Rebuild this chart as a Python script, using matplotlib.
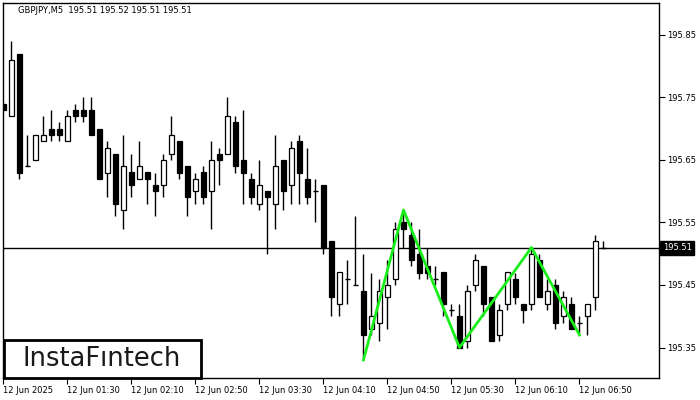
import matplotlib
matplotlib.use("Agg")
import matplotlib.pyplot as plt
import matplotlib.transforms as mtransforms
from matplotlib.patches import Rectangle

# GBPJPY M5 candles
opens = [
    195.74, 195.72, 195.82, 195.64, 195.65, 195.68, 195.70, 195.70, 195.68, 195.73,
    195.73, 195.73, 195.70, 195.63, 195.66, 195.57, 195.63, 195.62, 195.63, 195.61,
    195.61, 195.66, 195.68, 195.64, 195.60, 195.63, 195.60, 195.66, 195.66, 195.71,
    195.65, 195.62, 195.58, 195.60, 195.58, 195.65, 195.61, 195.68, 195.62, 195.60,
    195.61, 195.52, 195.42, 195.46, 195.45, 195.44, 195.38, 195.39, 195.43, 195.46,
    195.55, 195.53, 195.50, 195.48, 195.46, 195.47, 195.41, 195.40, 195.36, 195.45,
    195.48, 195.43, 195.37, 195.42, 195.46, 195.42, 195.42, 195.49, 195.42, 195.45,
    195.40, 195.42, 195.39, 195.40, 195.43, 195.51]
highs = [
    195.74, 195.84, 195.82, 195.69, 195.69, 195.72, 195.73, 195.71, 195.73, 195.74,
    195.75, 195.75, 195.70, 195.68, 195.66, 195.69, 195.66, 195.68, 195.63, 195.63,
    195.66, 195.72, 195.68, 195.64, 195.63, 195.64, 195.68, 195.67, 195.75, 195.72,
    195.73, 195.63, 195.65, 195.60, 195.69, 195.65, 195.68, 195.69, 195.67, 195.62,
    195.61, 195.52, 195.47, 195.49, 195.56, 195.50, 195.47, 195.46, 195.49, 195.55,
    195.57, 195.55, 195.54, 195.51, 195.48, 195.47, 195.42, 195.42, 195.45, 195.50,
    195.48, 195.43, 195.42, 195.47, 195.47, 195.42, 195.51, 195.50, 195.46, 195.46,
    195.44, 195.43, 195.40, 195.42, 195.53, 195.52]
lows = [
    195.73, 195.72, 195.62, 195.64, 195.65, 195.68, 195.68, 195.68, 195.68, 195.71,
    195.71, 195.69, 195.62, 195.59, 195.56, 195.54, 195.59, 195.62, 195.58, 195.56,
    195.59, 195.65, 195.62, 195.56, 195.58, 195.58, 195.54, 195.61, 195.66, 195.63,
    195.58, 195.58, 195.57, 195.50, 195.54, 195.57, 195.58, 195.58, 195.58, 195.55,
    195.50, 195.40, 195.40, 195.42, 195.45, 195.33, 195.37, 195.36, 195.38, 195.45,
    195.51, 195.48, 195.46, 195.46, 195.45, 195.40, 195.40, 195.35, 195.35, 195.44,
    195.40, 195.36, 195.36, 195.41, 195.42, 195.39, 195.41, 195.43, 195.41, 195.38,
    195.39, 195.38, 195.37, 195.37, 195.41, 195.51]
closes = [
    195.73, 195.81, 195.63, 195.64, 195.69, 195.69, 195.69, 195.69, 195.72, 195.72,
    195.72, 195.69, 195.62, 195.67, 195.58, 195.64, 195.61, 195.64, 195.62, 195.60,
    195.65, 195.69, 195.63, 195.59, 195.62, 195.59, 195.65, 195.65, 195.72, 195.64,
    195.63, 195.59, 195.61, 195.59, 195.64, 195.60, 195.67, 195.63, 195.59, 195.60,
    195.51, 195.43, 195.47, 195.46, 195.45, 195.37, 195.40, 195.44, 195.45, 195.54,
    195.54, 195.49, 195.47, 195.47, 195.46, 195.42, 195.41, 195.35, 195.44, 195.49,
    195.42, 195.36, 195.41, 195.47, 195.43, 195.41, 195.50, 195.43, 195.44, 195.39,
    195.43, 195.38, 195.39, 195.42, 195.52, 195.51]

last_price = 195.51
header = "GBPJPY,M5  195.51 195.52 195.51 195.51"

# triple bottom zigzag (bar index, price)
pattern_idx = [45, 50, 57, 66, 72]
pattern_price = [195.33, 195.57, 195.35, 195.51, 195.37]

price_ticks = [195.35, 195.45, 195.55, 195.65, 195.75, 195.85]
time_idx = [0, 8, 16, 24, 32, 40, 48, 56, 64, 72]
time_labels = ["12 Jun 2025", "12 Jun 01:30", "12 Jun 02:10", "12 Jun 02:50",
               "12 Jun 03:30", "12 Jun 04:10", "12 Jun 04:50", "12 Jun 05:30",
               "12 Jun 06:10", "12 Jun 06:50"]

plt.rcParams['font.family'] = 'DejaVu Sans'
plt.rcParams['font.size'] = 6

fig = plt.figure(figsize=(7, 4), dpi=100)
ax = fig.add_axes([3 / 700, 22 / 400, 656 / 700, 375 / 400])

w = 0.6
for i in range(len(opens)):
    o, h, l, c = opens[i], highs[i], lows[i], closes[i]
    ax.vlines(i, l, h, color='black', lw=1, zorder=2)
    if o == c:
        ax.hlines(o, i - w / 2, i + w / 2, color='black', lw=1, zorder=3)
    else:
        fc = 'white' if c > o else 'black'
        ax.bar(i, abs(c - o), bottom=min(o, c), width=w, color=fc,
               edgecolor='black', linewidth=0.9, zorder=3)

ax.axhline(last_price, color='black', lw=1, zorder=1)
ax.plot(pattern_idx, pattern_price, color='#1aee1a', lw=2, zorder=4)

ax.set_xlim(-0.06, 81.94)
ax.set_ylim(195.3012, 195.9012)

ax.set_xticks(time_idx)
ax.set_xticklabels(time_labels)
for lab in ax.get_xticklabels():
    lab.set_horizontalalignment('left')
ax.tick_params(axis='x', length=4, width=0.8, pad=2, direction='out')

ax.yaxis.tick_right()
ax.set_yticks(price_ticks)
ax.set_yticklabels([f"{p:.2f}" for p in price_ticks])
ax.tick_params(axis='y', length=4, width=0.8, pad=2, direction='out')

for s in ax.spines.values():
    s.set_linewidth(1)

ax.text(0.023, 0.979, header, transform=ax.transAxes, ha='left', va='center')

# current price tag on the right axis
trans = mtransforms.blended_transform_factory(ax.transAxes, ax.transData)
ax.text(1.006, last_price, f"{last_price:.2f}", transform=trans, color='white',
        ha='left', va='center', clip_on=False,
        bbox=dict(boxstyle='square,pad=0.3', fc='black', ec='black'))

# logo box
fig.add_artist(Rectangle((4 / 700, 22 / 400), 197 / 700, 38 / 400,
                         transform=fig.transFigure, fc='white', ec='black', lw=2, zorder=5))
fig.text(102 / 700, 41 / 400, "InstaF\u0131ntech", fontsize=18.5, color='#1a1a1a',
         ha='center', va='center', zorder=6)

fig.savefig('out.png', dpi=100, facecolor='white')
